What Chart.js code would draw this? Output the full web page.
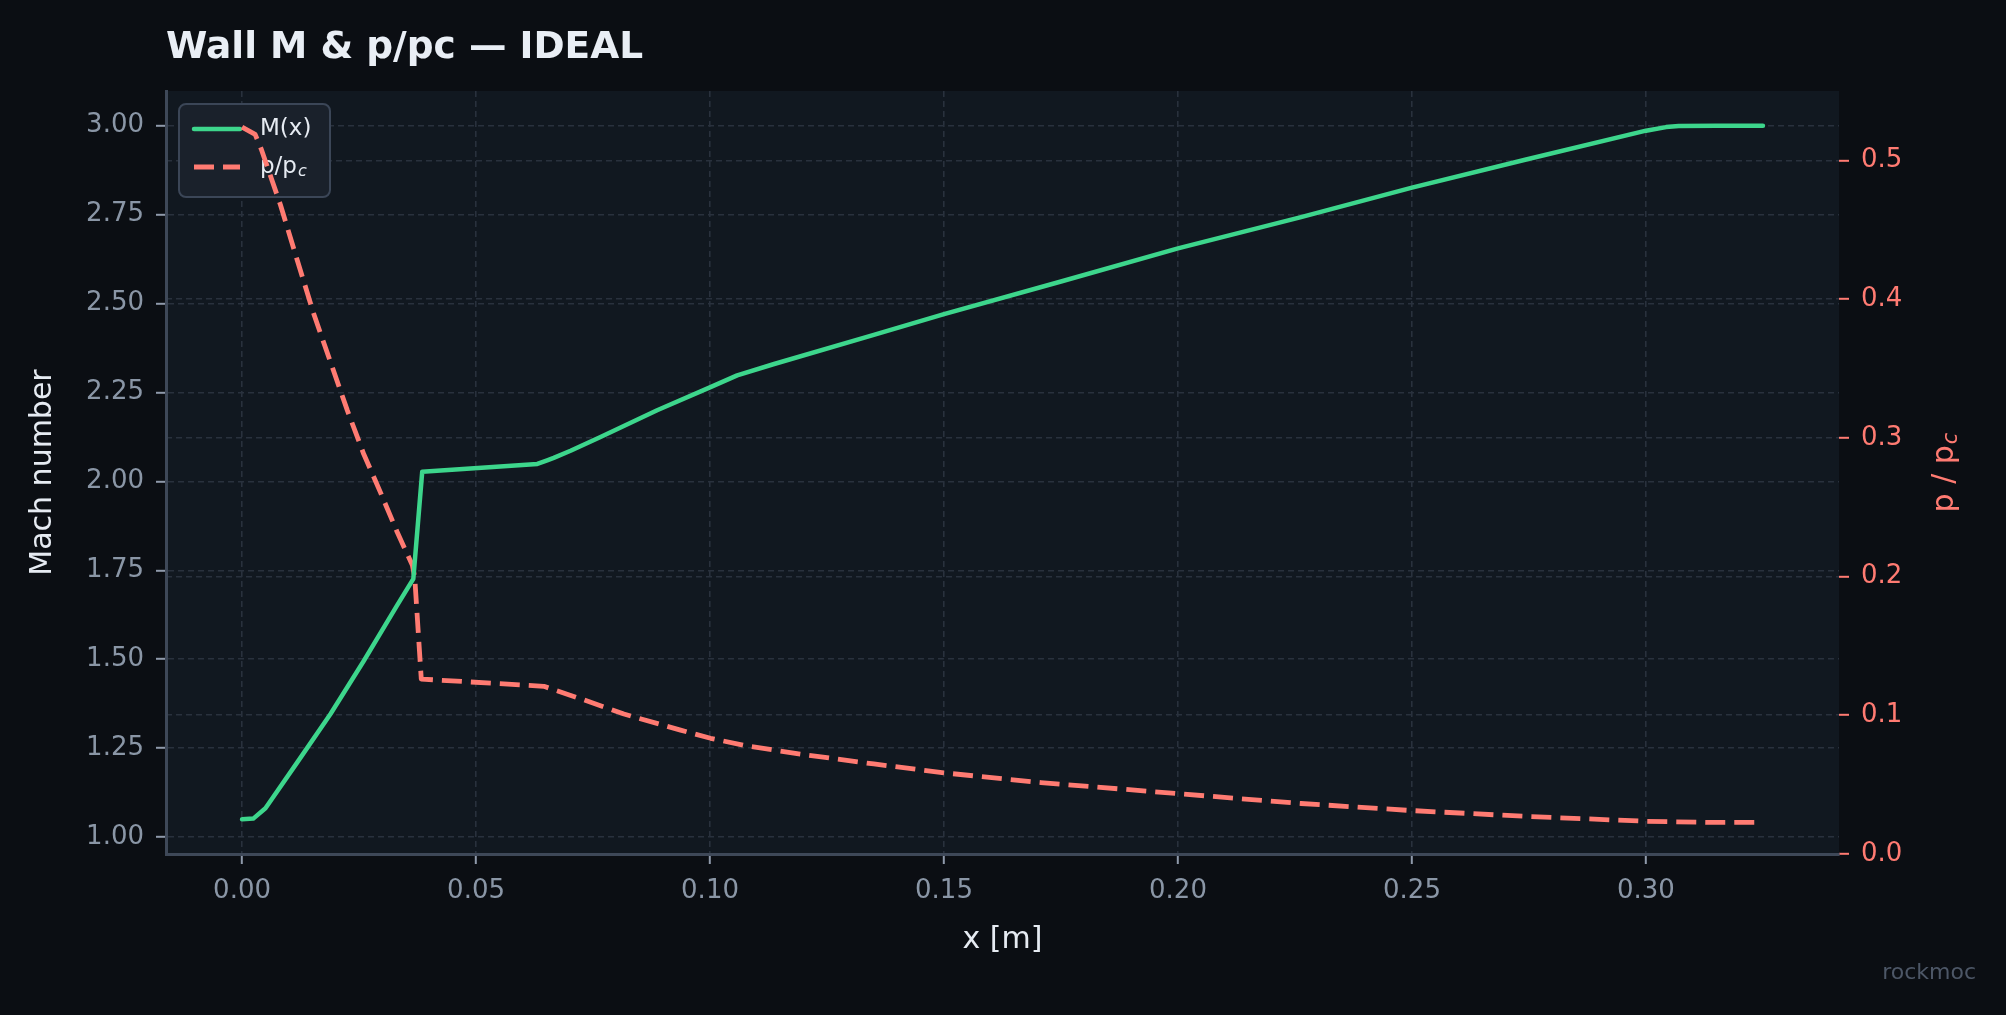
<!DOCTYPE html>
<html><head><meta charset="utf-8">
<script src="https://cdn.jsdelivr.net/npm/chart.js@4.4.1/dist/chart.umd.min.js"></script>
<style>html,body{margin:0;padding:0;background:#0b0e13;overflow:hidden}canvas{display:block}</style>
</head><body>
<canvas id="c" width="2006" height="1015" style="width:2006px;height:1015px"></canvas>
<script>
// ---- data ----
const machX = [0, 0.0024, 0.005, 0.0118, 0.0189, 0.026, 0.0331, 0.0366, 0.0385, 0.0631, 0.0652, 0.0666, 0.0702, 0.0766, 0.0887, 0.1001, 0.1058, 0.1137, 0.135, 0.15, 0.175, 0.2, 0.2263, 0.25, 0.2744, 0.30, 0.3043, 0.307, 0.315, 0.325];
const machValues = [1.05, 1.052, 1.081, 1.21, 1.346, 1.495, 1.651, 1.726, 2.027, 2.049, 2.059, 2.066, 2.086, 2.125, 2.2, 2.265, 2.298, 2.33, 2.412, 2.47, 2.562, 2.655, 2.743, 2.826, 2.905, 2.986, 2.996, 2.999, 3.0, 3.0];
const pressureX = [0, 0.0028, 0.0041, 0.0082, 0.0118, 0.0153, 0.0189, 0.0225, 0.026, 0.0296, 0.0331, 0.0364, 0.0369, 0.0383, 0.0645, 0.0666, 0.073, 0.0816, 0.0937, 0.1001, 0.108, 0.1208, 0.135, 0.15, 0.1707, 0.2, 0.2263, 0.25, 0.2744, 0.30, 0.313, 0.325];
const pressureValues = [0.524, 0.5187, 0.5082, 0.468, 0.428, 0.3896, 0.3546, 0.3198, 0.2883, 0.2605, 0.2325, 0.2081, 0.1994, 0.1261, 0.1209, 0.1184, 0.1112, 0.1009, 0.0893, 0.0834, 0.0778, 0.0713, 0.0649, 0.0585, 0.0515, 0.0435, 0.0364, 0.0313, 0.0271, 0.0236, 0.0228, 0.0228];
const xTicks = [0, 0.05, 0.10, 0.15, 0.20, 0.25, 0.30];
const machTicks = [1.00, 1.25, 1.50, 1.75, 2.00, 2.25, 2.50, 2.75, 3.00];
const pressureTicks = [0.0, 0.1, 0.2, 0.3, 0.4, 0.5];
const seriesLabels = ['M(x)', 'p/p_c'];
const chartTitle = 'Wall M & p/pc — IDEAL';
const xTitle = 'x [m]';
const leftTitle = 'Mach number';
const rightTitleMain = 'p / p';
const rightTitleSub = 'c';
const watermark = 'rockmoc';

// ---- styles ----
const FONT = "'DejaVu Sans', 'Liberation Sans', sans-serif";
const C = {
  figure: '#0b0e13', plot: '#111820', grid: '#29313d', spine: '#3e4858',
  tick: '#8a96a6', tickMark: '#8f9aab', text: '#e6ebf2', green: '#3dd68c', red: '#ff7b72',
  legendBg: '#1a212b', legendBorder: '#3b4657', mark: '#4d5767'
};

const toPts = (xs, ys) => xs.map((x, i) => ({x, y: ys[i]}));

const decor = {
  id: 'decor',
  beforeDraw(chart) {
    const {ctx, chartArea: a, width, height} = chart;
    ctx.save();
    ctx.fillStyle = C.figure; ctx.fillRect(0, 0, width, height);
    ctx.fillStyle = C.plot; ctx.fillRect(a.left, a.top, a.right - a.left, a.bottom - a.top);
    ctx.restore();
  },
  beforeDatasetsDraw(chart) {
    const {ctx} = chart;
    const ds = chart.data.datasets;
    ctx.save();
    const bx = 179, by = 104, bw = 151, bh = 93, r = 7;
    ctx.beginPath();
    ctx.roundRect(bx, by, bw, bh, r);
    ctx.fillStyle = C.legendBg; ctx.fill();
    ctx.lineWidth = 2; ctx.strokeStyle = C.legendBorder; ctx.stroke();
    const rows = [129, 167];
    ctx.textBaseline = 'middle';
    ds.forEach((d, i) => {
      const y = rows[i];
      ctx.beginPath();
      ctx.setLineDash(d.borderDash || []);
      ctx.lineWidth = d.borderWidth; ctx.strokeStyle = d.borderColor;
      ctx.lineCap = d.borderDash ? 'butt' : 'round';
      ctx.moveTo(d.borderDash ? 194 : 194, y); ctx.lineTo(240, y); ctx.stroke();
      ctx.setLineDash([]);
      ctx.fillStyle = C.text;
      const lab = d.label;
      ctx.font = `23px ${FONT}`;
      if (lab.includes('_')) {
        const [main, sub] = lab.split('_');
        ctx.fillText(main, 260, y);
        const w = ctx.measureText(main).width;
        ctx.font = `italic 16px ${FONT}`;
        ctx.fillText(sub, 260 + w + 1, y + 5);
      } else {
        ctx.fillText(lab, 260, y);
      }
    });
    ctx.restore();
  },
  afterDraw(chart) {
    const {ctx, chartArea: a} = chart;
    ctx.save();
    // title
    ctx.fillStyle = '#e9eef5';
    ctx.font = `bold 37.5px ${FONT}`;
    ctx.textBaseline = 'alphabetic';
    ctx.fillText(chartTitle, 166, 58);
    // right axis title
    ctx.translate(1945, (a.top + a.bottom) / 2);
    ctx.rotate(-Math.PI / 2);
    ctx.font = `30px ${FONT}`;
    const w1 = ctx.measureText(rightTitleMain).width;
    ctx.font = `italic 21px ${FONT}`;
    const w2 = ctx.measureText(rightTitleSub).width;
    const start = -(w1 + w2 + 1) / 2;
    ctx.fillStyle = C.red;
    ctx.textBaseline = 'middle';
    ctx.font = `30px ${FONT}`;
    ctx.fillText(rightTitleMain, start, 0);
    ctx.font = `italic 21px ${FONT}`;
    ctx.fillText(rightTitleSub, start + w1 + 1, 7);
    ctx.restore();
    // watermark
    ctx.save();
    ctx.fillStyle = C.mark;
    ctx.font = `22px ${FONT}`;
    ctx.textAlign = 'right'; ctx.textBaseline = 'middle';
    ctx.fillText(watermark, 1976, 973);
    ctx.restore();
  }
};

const setTicks = arr => scale => { scale.ticks = arr.map(v => ({value: v})); };

new Chart(document.getElementById('c'), {
  type: 'line',
  data: {
    datasets: [
      {label: seriesLabels[0], data: toPts(machX, machValues), yAxisID: 'y', borderColor: C.green,
       borderWidth: 4.5, pointRadius: 0, tension: 0, borderCapStyle: 'round', borderJoinStyle: 'round', fill: false},
      {label: seriesLabels[1], data: toPts(pressureX, pressureValues), yAxisID: 'y2', borderColor: C.red,
       borderWidth: 4.8, borderDash: [20, 9], pointRadius: 0, tension: 0, borderJoinStyle: 'round', fill: false}
    ]
  },
  options: {
    responsive: false, animation: false, devicePixelRatio: 1,
    layout: {padding: {top: 91, left: 0, right: 0, bottom: 0}},
    plugins: {legend: {display: false}, title: {display: false}, tooltip: {enabled: false}},
    scales: {
      x: {
        type: 'linear', min: -0.01625, max: 0.34125,
        afterFit: s => { s.height = 161; },
        afterBuildTicks: setTicks(xTicks),
        ticks: {color: C.tick, font: {family: FONT, size: 26}, padding: 12, maxRotation: 0,
                callback: v => Number(v).toFixed(2)},
        grid: {color: C.grid, lineWidth: 1.6, tickColor: C.tickMark, tickLength: 10, tickWidth: 2},
        border: {display: true, color: C.spine, width: 3, dash: [6, 4]},
        title: {display: true, text: xTitle, color: C.text, font: {family: FONT, size: 30}, padding: {top: 0, bottom: 57}}
      },
      y: {
        type: 'linear', position: 'left', min: 0.9525, max: 3.0975,
        afterFit: s => { s.width = 166; },
        afterBuildTicks: setTicks(machTicks),
        ticks: {color: C.tick, font: {family: FONT, size: 26}, padding: 12,
                callback: v => Number(v).toFixed(2)},
        grid: {color: C.grid, lineWidth: 1.6, tickColor: C.tickMark, tickLength: 10, tickWidth: 2},
        border: {display: true, color: C.spine, width: 3, dash: [6, 4]},
        title: {display: true, text: leftTitle, color: C.text, font: {family: FONT, size: 30}, padding: {top: 25, bottom: 0}}
      },
      y2: {
        type: 'linear', position: 'right', min: 0, max: 0.55,
        afterFit: s => { s.width = 167; },
        afterBuildTicks: setTicks(pressureTicks),
        ticks: {color: C.red, font: {family: FONT, size: 26}, padding: 12,
                callback: v => Number(v).toFixed(1)},
        grid: {color: C.grid, lineWidth: 1.6, tickColor: C.red, tickLength: 10, tickWidth: 2},
        border: {display: false, dash: [6, 4]}
      }
    }
  },
  plugins: [decor]
});
</script>
</body></html>
